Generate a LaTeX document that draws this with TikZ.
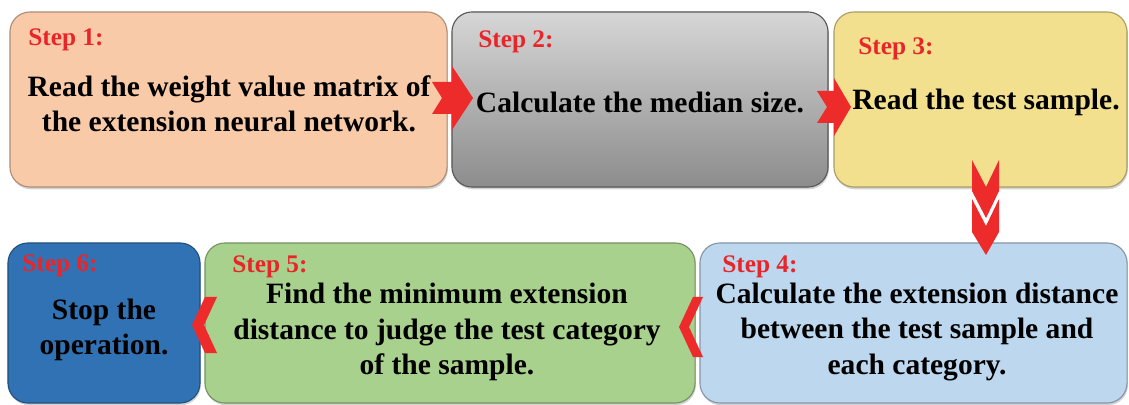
\documentclass[tikz,border=0pt]{standalone}
\usepackage{fontspec}
\setmainfont{Liberation Serif}
\usetikzlibrary{positioning,calc,shadows}

\definecolor{peach}{HTML}{F8CAA8}
\definecolor{sand}{HTML}{F2E08E}
\definecolor{skyblue}{HTML}{BCD7EE}
\definecolor{leaf}{HTML}{A8D18D}
\definecolor{deepblue}{HTML}{3172B4}
\definecolor{stepred}{HTML}{E8262A}
\definecolor{arrowred}{HTML}{EE2B2B}

\tikzset{
    stepbox/.style={draw=#1!70!black, fill=#1, rounded corners=0.5cm, line width=0.8pt,
        drop shadow={shadow xshift=0.6pt, shadow yshift=-1.6pt, opacity=0.35}},
    steplabel/.style={font=\bfseries\fontsize{18}{21}\selectfont, text=stepred, inner sep=0pt, anchor=north west},
    steptext/.style={font=\bfseries\fontsize{21}{25}\selectfont, align=center, inner sep=0pt}
}

\begin{document}
\begin{tikzpicture}[x=0.025cm, y=-0.025cm]
    \useasboundingbox (0,0) rectangle (1129,405);

    % top row
    \node[stepbox=peach, minimum width=10.925cm, minimum height=4.375cm] (s1) at (228.5,99.5) {};
    \node[stepbox=gray, top color=black!16, bottom color=black!45, minimum width=9.4cm, minimum height=4.375cm] (s2) at (640,99.5) {};
    \node[stepbox=sand, minimum width=7.325cm, minimum height=4.375cm] (s3) at (980.5,99.5) {};

    % bottom row
    \node[stepbox=skyblue, minimum width=10.675cm, minimum height=4cm] (s4) at (913.5,323) {};
    \node[stepbox=leaf, minimum width=12.25cm, minimum height=4cm] (s5) at (450,323) {};
    \node[stepbox=deepblue, minimum width=4.8cm, minimum height=4cm] (s6) at (104,323) {};

    % labels
    \node[steplabel] (l1) at (28,28) {Step 1:};
    \node[steplabel] (l2) at (478,30) {Step 2:};
    \node[steplabel] (l3) at (858,37) {Step 3:};
    \node[steplabel] (l4) at (722,255) {Step 4:};
    \node[steplabel] (l5) at (232,255) {Step 5:};
    \node[steplabel] (l6) at (22,254) {Step 6:};

    % texts
    \node[steptext] (t1) at (229,104) {Read the weight value matrix of\\the extension neural network.};
    \node[steptext] (t2) at (640,102) {Calculate the median size.};
    \node[steptext] (t3) at (986,102) {Read the test sample.};
    \node[steptext] (t4) at (917,332) {Calculate the extension distance\\between the test sample and\\each category.};
    \node[steptext] (t5) at (447,332) {Find the minimum extension\\distance to judge the test category\\of the sample.};
    \node[steptext] (t6) at (104,330) {Stop the\\operation.};

    % arrows
    \fill[arrowred] (432,82) -- (452,82) -- (452,66) -- (473,98) -- (452,130) -- (452,114) -- (432,114) -- (442,98) -- cycle;
    \fill[arrowred] (817,91) -- (834,91) -- (834,78) -- (851,107) -- (834,136) -- (834,123) -- (817,123) -- (827,107) -- cycle;
    \fill[arrowred] (972,160) -- (986,187) -- (999,160) -- (999,191) -- (986,218) -- (972,191) -- cycle;
    \fill[arrowred] (972,199) -- (986,226) -- (999,199) -- (999,232) -- (986,255) -- (972,232) -- cycle;
    \fill[arrowred] (693,297) -- (679,327) -- (693,357) -- (703,357) -- (689,327) -- (703,297) -- cycle;
    \fill[arrowred] (205,297) -- (192,325) -- (205,353) -- (217,353) -- (204,325) -- (217,297) -- cycle;
\end{tikzpicture}
\end{document}
